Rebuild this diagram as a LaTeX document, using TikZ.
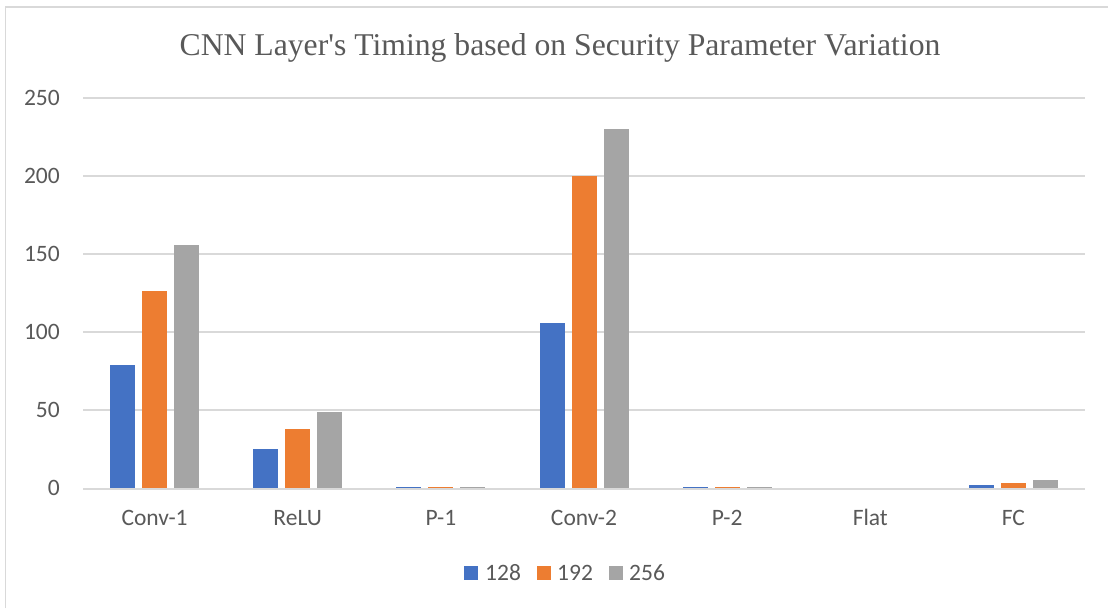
\documentclass[tikz,border=0pt]{standalone}
\usepackage{fontspec}
\setmainfont{Liberation Serif}
\newfontfamily\chartsans{Carlito}
\definecolor{serA}{HTML}{4472C4}
\definecolor{serB}{HTML}{ED7D31}
\definecolor{serC}{HTML}{A5A5A5}
\definecolor{inkgray}{HTML}{595959}
\definecolor{rulegray}{HTML}{D9D9D9}
\tikzset{
  gridline/.style={draw=rulegray, line width=1.2pt},
  framel/.style={draw=rulegray, line width=1.3pt},
  ticklabel/.style={anchor=east, inner sep=0pt, text=inkgray, font=\chartsans\fontsize{23.5}{27}\selectfont},
  catlabel/.style={anchor=base, inner sep=0pt, text=inkgray, font=\chartsans\fontsize{23.5}{27}\selectfont},
  legtext/.style={anchor=west, inner sep=0pt, text=inkgray, font=\chartsans\fontsize{23.5}{27}\selectfont},
  charttitle/.style={anchor=center, inner sep=0pt, text=inkgray, font=\fontsize{31.7}{36}\selectfont},
}
\begin{document}
\begin{tikzpicture}[x=1pt,y=-1pt]
\useasboundingbox (0,0) rectangle (1108,608);
% outer chart frame (left and top edges inside the page)
\draw[framel] (5.5,608) -- (5.5,7) -- (1108,7);
% title
\node[charttitle] (title) at (560,48) {CNN Layer\textquotesingle s Timing based on Security Parameter Variation};
% horizontal grid and value labels
\foreach \v in {50,100,150,200,250}{
  \pgfmathsetmacro{\yy}{488-1.56*\v}
  \draw[gridline] (83,\yy) -- (1085,\yy);
}
\foreach \v [count=\k] in {0,50,100,150,200,250}{
  \pgfmathsetmacro{\yy}{488-1.56*\v}
  \node[ticklabel] (tick\k) at (60,\yy) {\v};
}
% grouped bars
\foreach \c/\a/\b/\d [count=\i from 0] in {Conv-1/79/126/156, ReLU/25/38/49, P-1/0.6/0.6/0.6, Conv-2/106/200/230, P-2/0.6/0.6/0.6, Flat/0/0/0, FC/2/3/5}{
  \pgfmathsetmacro{\cx}{154.6+\i*143.14}
  \fill[serA] ({\cx-44.5},488) rectangle ({\cx-19.5},{488-1.56*\a});
  \fill[serB] ({\cx-12.5},488) rectangle ({\cx+12.5},{488-1.56*\b});
  \fill[serC] ({\cx+19.5},488) rectangle ({\cx+44.5},{488-1.56*\d});
  \node[catlabel] (cat\i) at (\cx,525.5) {\c};
}
% baseline
\draw[gridline] (83,489) -- (1085,489);
% legend
\fill[serA] (464,566) rectangle (478,580);
\node[legtext] (leg128) at (485,573) {128};
\fill[serB] (537,566) rectangle (551,580);
\node[legtext] (leg192) at (557,573) {192};
\fill[serC] (609,566) rectangle (623,580);
\node[legtext] (leg256) at (629,573) {256};
\end{tikzpicture}
\end{document}
